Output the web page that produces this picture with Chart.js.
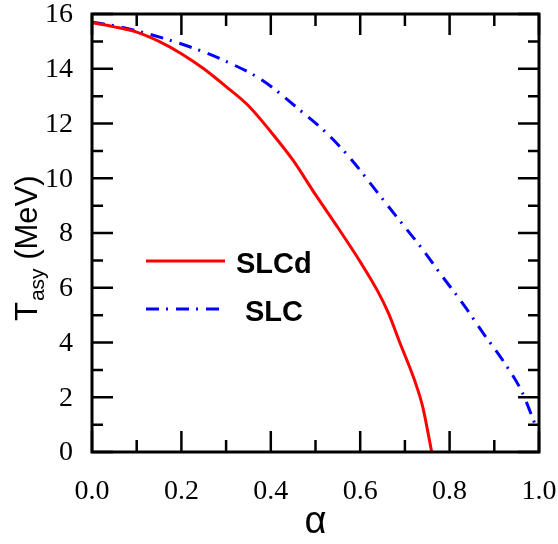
<!doctype html>
<html lang="en">
<head>
<meta charset="utf-8">
<title>Tasy vs alpha</title>
<style>
  html, body { margin: 0; padding: 0; background: #fff; }
  #wrap { width: 558px; height: 544px; }
</style>
</head>
<body>
<div id="wrap"><canvas id="myChart" width="558" height="544"></canvas></div>
<script src="https://cdn.jsdelivr.net/npm/chart.js@4.4.0/dist/chart.umd.min.js"></script>
<script>
// values
var alphaSLCd = [0, 0.05, 0.1, 0.15, 0.2, 0.25, 0.3, 0.35, 0.4, 0.45, 0.5, 0.55, 0.6, 0.64, 0.663, 0.689, 0.722, 0.74, 0.76];
var tasySLCd  = [15.68, 15.53, 15.34, 15.0, 14.55, 14.0, 13.35, 12.65, 11.7, 10.65, 9.4, 8.2, 6.95, 5.85, 5.08, 3.98, 2.6, 1.64, 0];

var alphaSLC = [0, 0.05, 0.102, 0.226, 0.293, 0.38, 0.465, 0.525, 0.581, 0.631, 0.682, 0.734, 0.783, 0.83, 0.877, 0.923, 0.962, 0.992];
var tasySLC  = [15.7, 15.57, 15.38, 14.76, 14.32, 13.59, 12.49, 11.65, 10.67, 9.64, 8.58, 7.52, 6.43, 5.41, 4.3, 3.25, 2.19, 0.98];

var xTicks = [0, 0.2, 0.4, 0.6, 0.8, 1.0];
var yTicks = [0, 2, 4, 6, 8, 10, 12, 14, 16];
var legendLabels = ['SLCd', 'SLC'];

var dashSLC = [13, 7, 2, 8];
var serif = '"Liberation Serif", "Times New Roman", serif';
var sans = '"Liberation Sans", Arial, sans-serif';

function pts(xs, ys) {
    return xs.map(function (x, i) { return {x: x, y: ys[i]}; });
}

// frame with inward ticks on all four sides, tick labels, titles and legend
var framePlugin = {
    id: 'frame',
    afterDraw: function (chart) {
        var c = chart.ctx, a = chart.chartArea;
        var xs = chart.scales.x, ys = chart.scales.y;
        c.save();
        c.strokeStyle = '#000';
        c.lineWidth = 2.5;
        c.beginPath();
        var v, px, len;
        for (v = 0; v <= 10; v++) {
            px = xs.getPixelForValue(v / 10);
            len = (v % 2 === 0) ? 21 : 12;
            c.moveTo(px, a.bottom); c.lineTo(px, a.bottom - len);
            c.moveTo(px, a.top); c.lineTo(px, a.top + len);
        }
        for (v = 0; v <= 16; v++) {
            px = ys.getPixelForValue(v);
            len = (v % 2 === 0) ? 21 : 11;
            c.moveTo(a.left, px); c.lineTo(a.left + len, px);
            c.moveTo(a.right, px); c.lineTo(a.right - len, px);
        }
        c.stroke();
        c.lineWidth = 3;
        c.strokeRect(a.left, a.top, a.right - a.left, a.bottom - a.top);

        // tick labels
        c.fillStyle = '#000';
        c.font = '28px ' + serif;
        c.textAlign = 'center';
        c.textBaseline = 'alphabetic';
        xTicks.forEach(function (t) {
            c.fillText(t.toFixed(1), xs.getPixelForValue(t), 499);
        });
        c.textAlign = 'right';
        c.textBaseline = 'middle';
        yTicks.forEach(function (t) {
            c.fillText(String(t), 73, ys.getPixelForValue(t) + 1);
        });

        // legend
        c.lineWidth = 3;
        c.strokeStyle = '#ff0000';
        c.beginPath(); c.moveTo(146, 261); c.lineTo(225, 261); c.stroke();
        c.strokeStyle = '#0000ff';
        c.setLineDash(dashSLC);
        c.beginPath(); c.moveTo(146, 309); c.lineTo(221, 309); c.stroke();
        c.setLineDash([]);
        c.font = 'bold 29px ' + sans;
        c.textBaseline = 'middle';
        c.textAlign = 'left';
        c.fillText(legendLabels[0], 236, 265);
        c.fillText(legendLabels[1], 245, 313);

        // x title
        c.font = '38px ' + sans;
        c.textAlign = 'center';
        c.textBaseline = 'alphabetic';
        c.fillText('\u03b1', (a.left + a.right) / 2, 533);

        // y title with subscript
        c.translate(37, 321);
        c.rotate(-Math.PI / 2);
        c.textAlign = 'left';
        c.font = '31px ' + sans;
        c.fillText('T', 0, 0);
        var w = c.measureText('T').width;
        c.font = '21px ' + sans;
        c.fillText('asy', w + 1, 7);
        w += c.measureText('asy').width + 1;
        c.font = '31px ' + sans;
        c.fillText(' (MeV)', w, 0);
        c.restore();
    }
};

var ctx = document.getElementById('myChart').getContext('2d');
var chart = new Chart(ctx, {
    type: 'line',
    data: {
        datasets: [{
            label: legendLabels[0],
            data: pts(alphaSLCd, tasySLCd),
            borderColor: '#ff0000',
            borderWidth: 3,
            pointRadius: 0,
            cubicInterpolationMode: 'monotone',
            fill: false
        }, {
            label: legendLabels[1],
            data: pts(alphaSLC, tasySLC),
            borderColor: '#0000ff',
            borderWidth: 3,
            borderDash: dashSLC,
            pointRadius: 0,
            cubicInterpolationMode: 'monotone',
            fill: false
        }]
    },
    options: {
        responsive: false,
        animation: false,
        layout: { padding: { top: 14, right: 19, left: 0, bottom: 0 } },
        plugins: { legend: { display: false }, tooltip: { enabled: false } },
        scales: {
            x: {
                type: 'linear', min: 0, max: 1,
                grid: { display: false, drawTicks: false },
                border: { display: false },
                ticks: { display: false },
                afterFit: function (s) { s.height = 92; }
            },
            y: {
                type: 'linear', min: 0, max: 16,
                grid: { display: false, drawTicks: false },
                border: { display: false },
                ticks: { display: false },
                afterFit: function (s) { s.width = 92; }
            }
        }
    },
    plugins: [framePlugin]
});
</script>
</body>
</html>
